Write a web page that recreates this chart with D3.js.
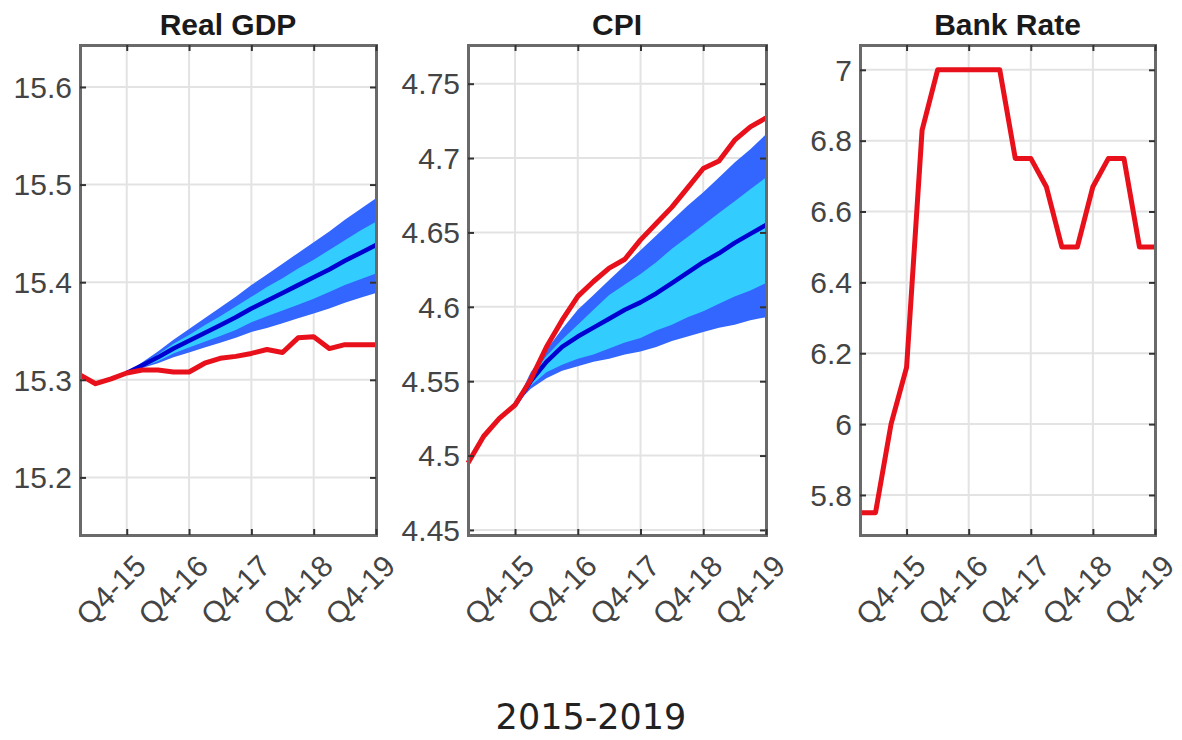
<!DOCTYPE html>
<html>
<head>
<meta charset="utf-8">
<script src="https://cdn.jsdelivr.net/npm/d3@7"></script>
<style>
  html, body { margin: 0; padding: 0; background: #ffffff; }
  svg { display: block; }
</style>
</head>
<body>
<svg id="chart" width="1182" height="740"></svg>
<script>
// Quarterly index: 0 = Q1-15 ... 19 = Q4-19
const quarters = d3.range(20);
const xTickValues = [3, 7, 11, 15, 19];
const xTickLabels = ["Q4-15", "Q4-16", "Q4-17", "Q4-18", "Q4-19"];

// Forecast horizon starts at Q4-15 (index 3)
const fcQuarters = d3.range(3, 20);

// Real GDP (log level)
const gdpActual = [15.305, 15.296, 15.301, 15.307, 15.310, 15.310, 15.308, 15.308, 15.317, 15.322,
                   15.324, 15.327, 15.331, 15.328, 15.343, 15.344, 15.332, 15.336, 15.336, 15.336];
const gdpMean    = [15.307, 15.315, 15.323, 15.332, 15.340, 15.348, 15.356, 15.364, 15.373, 15.381,
                    15.389, 15.397, 15.405, 15.413, 15.422, 15.430, 15.438];
const gdpOuterHi = [15.307, 15.318, 15.329, 15.341, 15.352, 15.363, 15.374, 15.385, 15.397, 15.408,
                    15.419, 15.430, 15.441, 15.452, 15.464, 15.475, 15.486];
const gdpInnerHi = [15.307, 15.317, 15.326, 15.337, 15.346, 15.356, 15.365, 15.375, 15.385, 15.395,
                    15.404, 15.414, 15.423, 15.433, 15.443, 15.453, 15.462];
const gdpInnerLo = [15.307, 15.313, 15.319, 15.327, 15.333, 15.339, 15.345, 15.351, 15.359, 15.365,
                    15.371, 15.377, 15.383, 15.390, 15.397, 15.403, 15.409];
const gdpOuterLo = [15.307, 15.312, 15.317, 15.323, 15.328, 15.333, 15.338, 15.343, 15.349, 15.353,
                    15.358, 15.363, 15.368, 15.373, 15.379, 15.384, 15.389];
const gdpTicks = [15.2, 15.3, 15.4, 15.5, 15.6];
const gdpDomain = [15.141, 15.643];

// CPI (log level)
const cpiActual = [4.495, 4.513, 4.525, 4.534, 4.551, 4.573, 4.591, 4.607, 4.617, 4.626,
                   4.632, 4.645, 4.656, 4.667, 4.680, 4.693, 4.698, 4.712, 4.721, 4.727];
const cpiMean    = [4.534, 4.550, 4.563, 4.573, 4.580, 4.586, 4.592, 4.598, 4.603, 4.609,
                    4.616, 4.623, 4.630, 4.636, 4.643, 4.649, 4.655];
const cpiOuterHi = [4.534, 4.556, 4.571, 4.585, 4.598, 4.608, 4.618, 4.628, 4.638, 4.648,
                    4.658, 4.668, 4.677, 4.687, 4.697, 4.706, 4.716];
const cpiInnerHi = [4.534, 4.553, 4.567, 4.578, 4.588, 4.598, 4.608, 4.615, 4.622, 4.630,
                    4.639, 4.647, 4.655, 4.663, 4.671, 4.679, 4.687];
const cpiInnerLo = [4.534, 4.547, 4.556, 4.561, 4.565, 4.568, 4.572, 4.576, 4.579, 4.584,
                    4.588, 4.593, 4.597, 4.602, 4.607, 4.611, 4.616];
const cpiOuterLo = [4.534, 4.545, 4.552, 4.557, 4.560, 4.563, 4.565, 4.568, 4.570, 4.573,
                    4.577, 4.580, 4.583, 4.586, 4.588, 4.591, 4.593];
const cpiTicks = [4.45, 4.5, 4.55, 4.6, 4.65, 4.7, 4.75];
const cpiDomain = [4.4466, 4.776];

// Bank Rate (%)
const rateActual = [5.75, 5.75, 6.0, 6.16, 6.83, 7.0, 7.0, 7.0, 7.0, 7.0,
                    6.75, 6.75, 6.67, 6.5, 6.5, 6.67, 6.75, 6.75, 6.5, 6.5];
const rateTicks = [5.8, 6, 6.2, 6.4, 6.6, 6.8, 7];
const rateDomain = [5.687, 7.07];

const periodLabel = "2015-2019";

const colors = {
  outer: "#3366ff",
  inner: "#33ccff",
  mean: "#0000d0",
  actual: "#e8101a",
  grid: "#e3e3e3",
  axis: "#6a6a6a",
  tick: "#444444",
  title: "#1a1a1a"
};

const svg = d3.select("#chart");
const plotTop = 45, plotBottom = 535;

function drawPanel(opt) {
  const g = svg.append("g");
  const x = d3.scaleLinear().domain([0, 19]).range([opt.left, opt.right]);
  const y = d3.scaleLinear().domain(opt.domain).range([plotBottom, plotTop]);

  // grid
  g.append("g").selectAll("line").data(xTickValues).join("line")
    .attr("x1", d => x(d)).attr("x2", d => x(d))
    .attr("y1", plotTop).attr("y2", plotBottom)
    .attr("stroke", colors.grid).attr("stroke-width", 2);
  g.append("g").selectAll("line").data(opt.ticks).join("line")
    .attr("x1", opt.left).attr("x2", opt.right)
    .attr("y1", d => y(d)).attr("y2", d => y(d))
    .attr("stroke", colors.grid).attr("stroke-width", 2);

  // fan bands
  if (opt.fan) {
    const f = opt.fan;
    const band = (lo, hi) => d3.area()
      .x((d, i) => x(fcQuarters[i]))
      .y0((d, i) => y(lo[i]))
      .y1((d, i) => y(hi[i]))(fcQuarters);
    g.append("path").attr("d", band(f.outerLo, f.outerHi)).attr("fill", colors.outer);
    g.append("path").attr("d", band(f.innerLo, f.innerHi)).attr("fill", colors.inner);
    g.append("path")
      .attr("d", d3.line().x((d, i) => x(fcQuarters[i])).y(d => y(d))(f.mean))
      .attr("fill", "none").attr("stroke", colors.mean)
      .attr("stroke-width", 4.5).attr("stroke-linejoin", "round");
  }

  // actual outturn
  g.append("path")
    .attr("d", d3.line().x((d, i) => x(quarters[i])).y(d => y(d))(opt.actual))
    .attr("fill", "none").attr("stroke", colors.actual)
    .attr("stroke-width", 5).attr("stroke-linejoin", "round");

  // axes box with inward ticks on all sides
  const yLeft = d3.axisLeft(y).tickValues(opt.ticks).tickSize(-6).tickFormat("");
  const yRight = d3.axisRight(y).tickValues(opt.ticks).tickSize(-6).tickFormat("");
  const xBottom = d3.axisBottom(x).tickValues(xTickValues).tickSize(-6).tickFormat("");
  const xTop = d3.axisTop(x).tickValues(xTickValues).tickSize(-6).tickFormat("");
  [[yLeft, `translate(${opt.left},0)`], [yRight, `translate(${opt.right},0)`],
   [xBottom, `translate(0,${plotBottom})`], [xTop, `translate(0,${plotTop})`]].forEach(([ax, tr]) => {
    const a = g.append("g").attr("transform", tr).call(ax);
    a.select(".domain").attr("stroke", colors.axis).attr("stroke-width", 3);
    a.selectAll(".tick line").attr("stroke", "#333").attr("stroke-width", 2);
  });

  // y tick labels
  g.append("g").selectAll("text").data(opt.ticks).join("text")
    .attr("x", opt.left - 8).attr("y", d => y(d)).attr("dy", "0.36em")
    .attr("text-anchor", "end")
    .attr("font-family", "'Liberation Sans', Arial, sans-serif")
    .attr("font-size", 30).attr("fill", colors.tick)
    .text(d => d3.format("~g")(d));

  // rotated x tick labels
  g.append("g").selectAll("text").data(xTickValues).join("text")
    .attr("transform", d => `translate(${x(d) + 21},${plotBottom + 33}) rotate(-45)`)
    .attr("text-anchor", "end")
    .attr("font-family", "'Liberation Sans', Arial, sans-serif")
    .attr("font-size", 30).attr("fill", colors.tick)
    .text((d, i) => xTickLabels[i]);

  // title
  g.append("text")
    .attr("x", (opt.left + opt.right) / 2).attr("y", 35)
    .attr("text-anchor", "middle")
    .attr("font-family", "'Liberation Sans', Arial, sans-serif")
    .attr("font-weight", "bold").attr("font-size", 30).attr("fill", colors.title)
    .text(opt.title);
}

drawPanel({
  title: "Real GDP", left: 80, right: 376, domain: gdpDomain, ticks: gdpTicks,
  actual: gdpActual,
  fan: { mean: gdpMean, outerHi: gdpOuterHi, innerHi: gdpInnerHi, innerLo: gdpInnerLo, outerLo: gdpOuterLo }
});
drawPanel({
  title: "CPI", left: 468, right: 766, domain: cpiDomain, ticks: cpiTicks,
  actual: cpiActual,
  fan: { mean: cpiMean, outerHi: cpiOuterHi, innerHi: cpiInnerHi, innerLo: cpiInnerLo, outerLo: cpiOuterLo }
});
drawPanel({
  title: "Bank Rate", left: 860, right: 1155, domain: rateDomain, ticks: rateTicks,
  actual: rateActual
});

svg.append("text")
  .attr("x", 591).attr("y", 729)
  .attr("text-anchor", "middle")
  .attr("font-family", "'DejaVu Sans', sans-serif")
  .attr("font-size", 35).attr("fill", "#222")
  .text(periodLabel);
</script>
</body>
</html>
